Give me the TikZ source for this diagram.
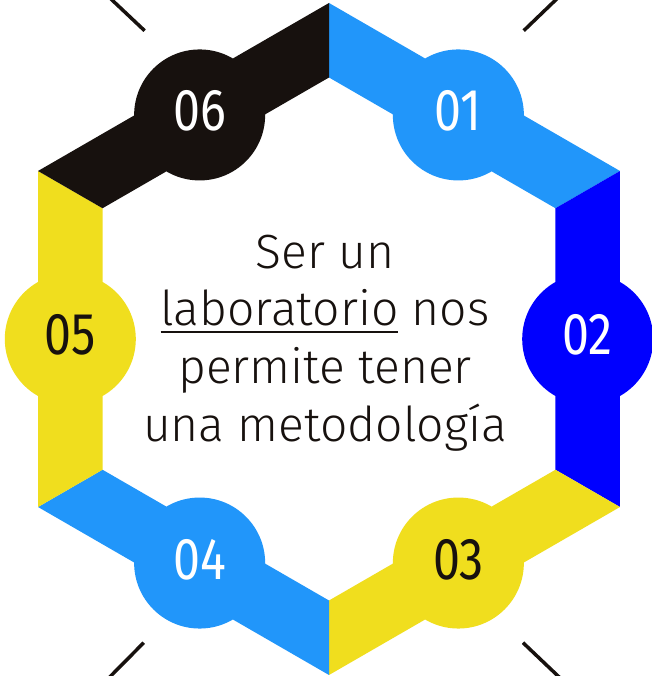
\documentclass[tikz,border=0pt]{standalone}
\usepackage{fontspec}
\setmainfont{Fira Sans}
\newfontfamily\digitfont[FakeStretch=0.82]{Fira Sans}
\newfontfamily\bodyfont{Fira Sans Light}
\usetikzlibrary{calc}
\definecolor{lblue}{RGB}{33,150,250}
\definecolor{dblue}{RGB}{0,0,255}
\definecolor{yel}{RGB}{240,222,30}
\definecolor{ink}{RGB}{23,17,14}
\newcommand\labline[1]{\setbox0\hbox{#1}\rlap{\rule[-7pt]{\wd0}{1.6pt}}\box0\relax}
\begin{document}
\begin{tikzpicture}[x=1pt,y=1pt,
  digit/.style={font=\digitfont\fontsize{59}{59}\selectfont, inner sep=0pt, anchor=base},
  bodyline/.style={font=\bodyfont\fontsize{48}{48}\selectfont, text=ink, inner sep=0pt, anchor=base},
  tick/.style={draw=ink, line width=3.5pt}]
\useasboundingbox (0,0) rectangle (651,676);
\fill[white] (0,0) rectangle (651,676);
% decorative ticks
\coordinate (tla) at (107.8,680); \coordinate (tlb) at (144.6,645.3);
\coordinate (tra) at (559.8,680); \coordinate (trb) at (523.7,645.3);
\coordinate (bla) at (106.8,-4);  \coordinate (blb) at (143.7,33.3);
\coordinate (bra) at (562.2,-4);  \coordinate (brb) at (523,33.3);
\draw[tick] (tla) -- (tlb);
\draw[tick] (tra) -- (trb);
\draw[tick] (bla) -- (blb);
\draw[tick] (bra) -- (brb);
% hexagon ring
\begin{scope}[shift={(329,337)}]
\foreach \a/\col/\num/\tc in {30/lblue/01/white, -30/dblue/02/white, -90/yel/03/ink, -150/lblue/04/white, 150/yel/05/ink, 90/ink/06/white} {
  \fill[\col] (\a:336) -- (\a+60:336) -- (\a+60:261.5) -- (\a:261.5) -- cycle
              (\a+30:258.7) circle (65.5);
  \node[digit, text=\tc, yshift=-16pt] (n\num) at (\a+30:258.7) {\num};
}
\end{scope}
% central text
\node[bodyline] (l1) at (325,407) {Ser un};
\node[bodyline] (l2) at (325,350) {\labline{laboratorio} nos};
\node[bodyline] (l3) at (325,292) {permite tener};
\node[bodyline] (l4) at (325,234) {una metodología};
\end{tikzpicture}
\end{document}
